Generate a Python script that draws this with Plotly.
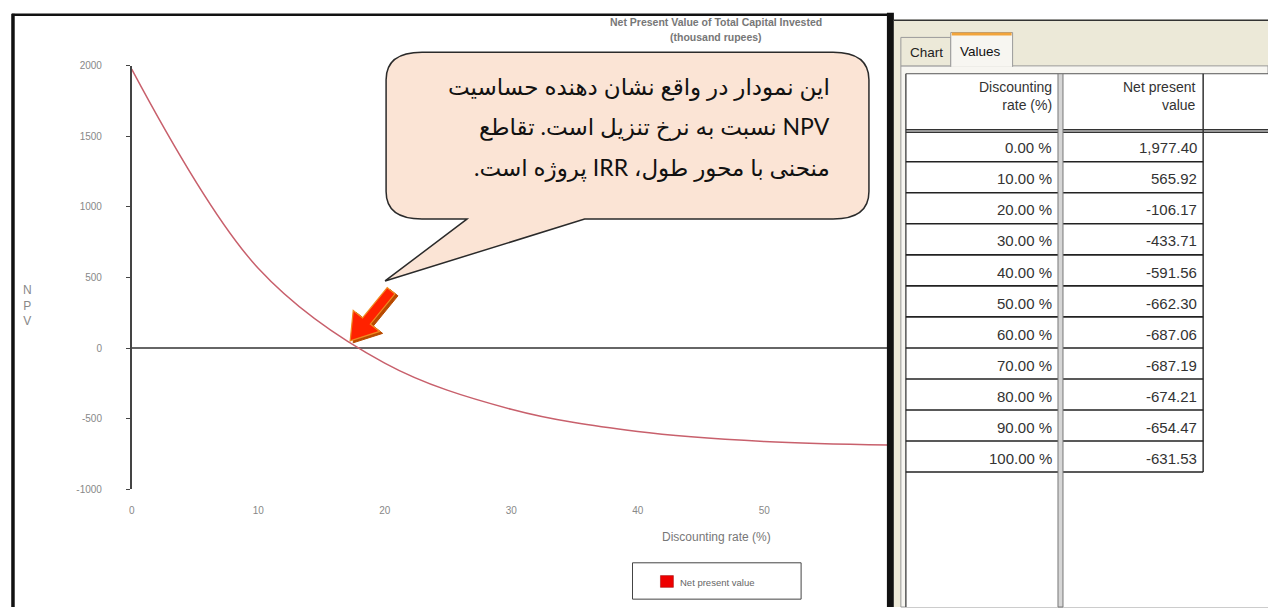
import math
import plotly.graph_objects as go

# ---------------- data ----------------
rates = [0, 10, 20, 30, 40, 50, 60, 70, 80, 90, 100]
npv = [1977.40, 565.92, -106.17, -433.71, -591.56, -662.30,
       -687.06, -687.19, -674.21, -654.47, -631.53]
y_ticks = [-1000, -500, 0, 500, 1000, 1500, 2000]
x_ticks = [0, 10, 20, 30, 40, 50]
x_cross_ticks = [10, 20, 30, 40, 50]
col_headers = ["Discounting<br>rate (%)", "Net present<br>value"]
tab_labels = ["Chart", "Values"]
series_name = "Net present value"
chart_title = ["Net Present Value of Total Capital Invested", "(thousand rupees)"]
x_title = "Discounting rate (%)"
y_title = "N<br>P<br>V"
callout_lines = [
    "این نمودار در واقع نشان دهنده حساسیت",
    "NPV نسبت به نرخ تنزیل است. تقاطع",
    "منحنی با محور طول، IRR پروژه است.",
]

# ---------------- layout helpers (pixel -> paper) ----------------
W, H = 1268, 613
def fx(x): return x / W
def fy(y): return 1 - y / H
def P(x, y): return f"{fx(x):.5f},{fy(y):.5f}"

FONT = "Liberation Sans, Arial, sans-serif"
shapes = []
annotations = []

def rect(x0, y0, x1, y1, fill=None, line=None, lw=1, layer="above"):
    shapes.append(dict(type="rect", xref="paper", yref="paper",
                       x0=fx(x0), x1=fx(x1), y0=fy(y1), y1=fy(y0),
                       fillcolor=fill or "rgba(0,0,0,0)",
                       line=dict(color=line or "rgba(0,0,0,0)", width=lw if line else 0),
                       layer=layer))

def seg(x0, y0, x1, y1, color, lw, layer="above"):
    shapes.append(dict(type="line", xref="paper", yref="paper",
                       x0=fx(x0), y0=fy(y0), x1=fx(x1), y1=fy(y1),
                       line=dict(color=color, width=lw), layer=layer))

def poly(pts, fill, line, lw, layer="above"):
    d = "M " + " L ".join(P(x, y) for x, y in pts) + " Z"
    shapes.append(dict(type="path", xref="paper", yref="paper", path=d,
                       fillcolor=fill, line=dict(color=line, width=lw), layer=layer))

def text(x, y, s, size, color="#333", xanchor="center", yanchor="middle",
         family=FONT, align="center"):
    annotations.append(dict(x=fx(x), y=fy(y), xref="paper", yref="paper", text=s,
                            showarrow=False, xanchor=xanchor, yanchor=yanchor,
                            align=align, font=dict(size=size, color=color, family=family)))

# ---------------- figure ----------------
fig = go.Figure()
fig.add_trace(go.Scatter(x=rates, y=npv, mode="lines", name=series_name,
                         line=dict(color="#c8606c", width=1.5, shape="spline", smoothing=1.0),
                         showlegend=False, hoverinfo="x+y"))

# plot frame region (pixels)
PX0, PX1 = 129, 887
PY_TOP, PY_BOT = 62, 493   # y=2000 and y=-1000
x_max = (PX1 - PX0) / 12.68
zero_y = PY_BOT - (PY_BOT - PY_TOP) * (0 - (-1000)) / 3000

# chart frame
seg(10, 9, 10, 613, "#111", 3.5)
seg(9, 10, 890, 10, "#111", 2.5)
rect(886, 8, 893, 613, fill="#111")

# titles
text(715, 17, "<b>" + chart_title[0] + "</b>", 10.5, "#777")
text(715, 33, "<b>" + chart_title[1] + "</b>", 10.5, "#777")
text(25, 306, y_title, 12, "#888")
text(715, 542, x_title, 12, "#777")

# legend (manual box)
rect(631, 568, 800, 605, fill="white", line="#444", lw=1)
rect(659, 581, 672, 593, fill="#ee0000", line="#990000", lw=0.5)
text(677, 588, series_name, 9.5, "#666", xanchor="left")

# speech bubble
L, T, R, B = 384, 48, 868, 218
rx, ry = 36, 28
bubble = (f"M {P(465, B)} L {P(383, 281)} L {P(583, B)} L {P(R - rx, B)} "
          f"Q {P(R, B)} {P(R, B - ry)} L {P(R, T + ry)} Q {P(R, T)} {P(R - rx, T)} "
          f"L {P(L + rx, T)} Q {P(L, T)} {P(L, T + ry)} L {P(L, B - ry)} "
          f"Q {P(L, B)} {P(L + rx, B)} Z")
shapes.append(dict(type="path", xref="paper", yref="paper", path=bubble,
                   fillcolor="#fbe4d5", line=dict(color="#2a2a2a", width=1.5), layer="above"))
for i, ln in enumerate(callout_lines):
    text(831, 83 + 41 * i, "\u202B" + ln + "\u202C", 23, "#111", xanchor="right",
         family="Lato, DejaVu Sans, sans-serif")

# red block arrow
tip = (348, 342)
tail = (389, 291)
dx, dy = tip[0] - tail[0], tip[1] - tail[1]
ln_ = math.hypot(dx, dy)
ux, uy = dx / ln_, dy / ln_
nx, ny = -uy, ux
hl, hw, sw = 26, 17, 5
bx, by = tip[0] - hl * ux, tip[1] - hl * uy
arrow_pts = [(tail[0] + sw * nx, tail[1] + sw * ny), (bx + sw * nx, by + sw * ny),
             (bx + hw * nx, by + hw * ny), tip, (bx - hw * nx, by - hw * ny),
             (bx - sw * nx, by - sw * ny), (tail[0] - sw * nx, tail[1] - sw * ny)]
poly([(x + 3, y + 2) for x, y in arrow_pts], "#b84a00", "#b84a00", 1)
poly(arrow_pts, "#ff2200", "#f08a20", 1.2)

# ---------------- right panel (Values tab) ----------------
rect(893, 15, 1268, 613, fill="#ece9d8")
seg(893, 15.5, 1268, 15.5, "#333", 1.5)
rect(900, 62, 1268, 613, fill="#f7f6f1", line="#9a9a9a", lw=1)
rect(900, 33, 950, 62, fill="#ece9d8", line="#9a9a9a", lw=1)
rect(950, 28, 1012, 63, fill="#f7f6f1")
shapes.append(dict(type="path", xref="paper", yref="paper",
                   path=f"M {P(950, 63)} L {P(950, 28)} L {P(1012, 28)} L {P(1012, 63)}",
                   line=dict(color="#9a9a9a", width=1), layer="above"))
seg(951, 29.5, 1011, 29.5, "#f2a43a", 3)
text(926, 48, tab_labels[0], 13.5, "#222")
text(980, 47, tab_labels[1], 13.5, "#111")

# table grid
TX0, C1, C2, TX1 = 905, 1060, 1203, 1268
TY0, HB = 70, 128
ROW_H = 31.6
rect(TX0, TY0, TX1, 613, fill="white")
seg(TX0, TY0, TX1, TY0, "#555", 1)
seg(TX0, TY0, TX0, 613, "#555", 1.5)
n_rows = len(rates)
last_y = HB + ROW_H * n_rows
seg(C2, TY0, C2, last_y, "#333", 1.5)
for i in range(n_rows):
    yl = HB + ROW_H * (i + 1)
    seg(TX0, yl, C2, yl, "#222", 1.6)
seg(TX0, HB - 1, TX1, HB - 1, "#333", 1.5)
seg(TX0, HB + 1.5, TX1, HB + 1.5, "#333", 1.5)
rect(C1 - 2.5, TY0, C1 + 2.5, 613, fill="#d6d6d6", line="#777", lw=1)

TFONT = "Liberation Sans, Arial, sans-serif"
text(C1 - 7, 93, col_headers[0], 14, "#333", xanchor="right", align="right", family=TFONT)
text(C2 - 5, 93, col_headers[1], 14, "#333", xanchor="right", align="right", family=TFONT)
for i, (r, v) in enumerate(zip(rates, npv)):
    yc = HB + ROW_H * i + 17.5
    text(C1 - 7, yc, f"{r:.2f} %", 15, "#333", xanchor="right", family=TFONT)
    text(C2 - 4, yc, f"{v:,.2f}", 15, "#333", xanchor="right", family=TFONT)

# ---------------- axes ----------------
tick_font = dict(size=10, color="#888", family=FONT)
fig.update_layout(
    width=W, height=H, autosize=False,
    margin=dict(l=0, r=0, t=0, b=0),
    paper_bgcolor="white", plot_bgcolor="rgba(0,0,0,0)",
    showlegend=False,
    xaxis=dict(domain=[fx(PX0), fx(PX1)], range=[0, x_max], tickvals=x_ticks,
               ticktext=[str(v) for v in x_ticks], showgrid=False, zeroline=False,
               showline=False, ticks="", ticklabelstandoff=14, tickfont=tick_font,
               fixedrange=True),
    yaxis=dict(domain=[fy(PY_BOT), fy(PY_TOP)], range=[-1000, 2000], tickvals=y_ticks,
               ticktext=[str(v) for v in y_ticks], showgrid=False,
               zeroline=True, zerolinecolor="#666", zerolinewidth=1.5,
               showline=True, linecolor="#444", linewidth=1.5,
               ticks="outside", ticklen=4, tickcolor="#444", tickwidth=1.2,
               ticklabelstandoff=22, tickfont=tick_font, fixedrange=True),
    yaxis2=dict(overlaying="y", anchor="x", side="left", range=[-1000, 2000],
                tickvals=y_ticks, ticks="inside", ticklen=4, tickcolor="#444",
                tickwidth=1.2, showticklabels=False, showgrid=False, zeroline=False,
                showline=False, fixedrange=True),
    xaxis2=dict(overlaying="x", anchor="free", position=fy(zero_y), range=[0, x_max],
                tickvals=x_cross_ticks, ticks="outside", ticklen=4, tickcolor="#555",
                tickwidth=1.2, showticklabels=False, showgrid=False, zeroline=False,
                showline=False, fixedrange=True),
    xaxis3=dict(overlaying="x", anchor="free", position=fy(zero_y), range=[0, x_max],
                tickvals=x_cross_ticks, ticks="inside", ticklen=4, tickcolor="#555",
                tickwidth=1.2, showticklabels=False, showgrid=False, zeroline=False,
                showline=False, fixedrange=True),
    shapes=shapes,
    annotations=annotations,
)

fig.write_html("out.html", config={"displayModeBar": False},
               post_script="document.body.style.margin='0';document.body.style.overflow='hidden';")
